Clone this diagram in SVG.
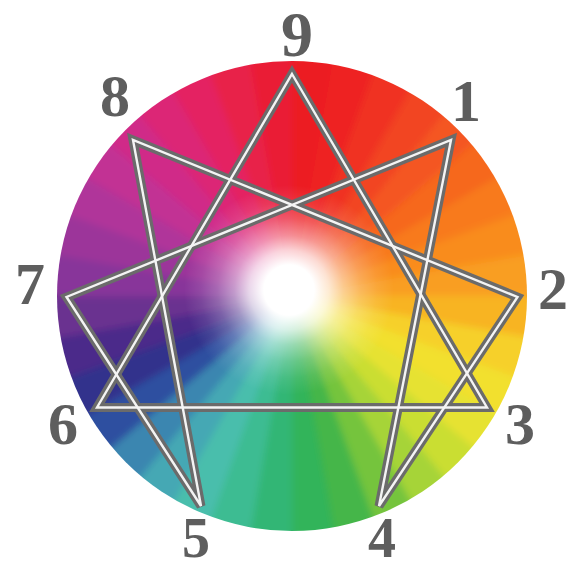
<svg xmlns="http://www.w3.org/2000/svg" width="574" height="573" viewBox="0 0 574 573">
<style>
.w{fill:currentColor;stroke:currentColor;stroke-width:1}
.ln{fill:none;stroke-linejoin:miter}
.g{stroke:#6b6b6b;stroke-width:9}
.h{stroke:#f4f4f4;stroke-width:2.4}
.num{font-family:"Liberation Serif","DejaVu Serif",serif;font-weight:bold;font-size:60px;fill:#5e5e5e;text-anchor:middle}
</style>
<defs>
<clipPath id="c"><circle cx="292" cy="296" r="235"/></clipPath>
<filter id="bl" x="-10%" y="-10%" width="120%" height="120%"><feGaussianBlur stdDeviation="3.5"/></filter>
<radialGradient id="glow" gradientUnits="userSpaceOnUse" cx="289" cy="290" r="105">
<stop offset="0" stop-color="#fff" stop-opacity="1"/>
<stop offset="0.24" stop-color="#fff" stop-opacity="1"/>
<stop offset="0.38" stop-color="#fff" stop-opacity="0.8"/>
<stop offset="0.52" stop-color="#fff" stop-opacity="0.5"/>
<stop offset="0.68" stop-color="#fff" stop-opacity="0.26"/>
<stop offset="0.84" stop-color="#fff" stop-opacity="0.1"/>
<stop offset="1" stop-color="#fff" stop-opacity="0"/>
</radialGradient>
<path id="tri" d="M292 74L487 407.5L97 407.5Z"/>
<path id="hex" d="M451 140L379 506L517.5 297L133 140L201 506L66.5 297Z"/>
</defs>
<rect width="574" height="573" fill="#fff"/>
<g id="wheel" clip-path="url(#c)">
<g filter="url(#bl)">
<path class="w" color="#ec1c24" d="M292 296L292 51L334.5 54.7Z"/>
<path class="w" color="#ee2422" d="M292 296L334.5 54.7L375.8 65.8Z"/>
<path class="w" color="#f03222" d="M292 296L375.8 65.8L414.5 83.8Z"/>
<path class="w" color="#f24422" d="M292 296L414.5 83.8L449.5 108.3Z"/>
<path class="w" color="#f45620" d="M292 296L449.5 108.3L479.7 138.5Z"/>
<path class="w" color="#f6681e" d="M292 296L479.7 138.5L504.2 173.5Z"/>
<path class="w" color="#f87a1e" d="M292 296L504.2 173.5L522.2 212.2Z"/>
<path class="w" color="#f98c1e" d="M292 296L522.2 212.2L533.3 253.5Z"/>
<path class="w" color="#f99e20" d="M292 296L533.3 253.5L537 296Z"/>
<path class="w" color="#f8b424" d="M292 296L537 296L533.3 338.5Z"/>
<path class="w" color="#f6d02a" d="M292 296L533.3 338.5L522.2 379.8Z"/>
<path class="w" color="#f2e02e" d="M292 296L522.2 379.8L504.2 418.5Z"/>
<path class="w" color="#e6e230" d="M292 296L504.2 418.5L479.7 453.5Z"/>
<path class="w" color="#cade32" d="M292 296L479.7 453.5L449.5 483.7Z"/>
<path class="w" color="#a6d438" d="M292 296L449.5 483.7L414.5 508.2Z"/>
<path class="w" color="#74c43e" d="M292 296L414.5 508.2L375.8 526.2Z"/>
<path class="w" color="#44b648" d="M292 296L375.8 526.2L334.5 537.3Z"/>
<path class="w" color="#30b45a" d="M292 296L334.5 537.3L292 541Z"/>
<path class="w" color="#30b674" d="M292 296L292 541L249.5 537.3Z"/>
<path class="w" color="#3cbc92" d="M292 296L249.5 537.3L208.2 526.2Z"/>
<path class="w" color="#48beac" d="M292 296L208.2 526.2L169.5 508.2Z"/>
<path class="w" color="#44a8b4" d="M292 296L169.5 508.2L134.5 483.7Z"/>
<path class="w" color="#3a86b0" d="M292 296L134.5 483.7L104.3 453.5Z"/>
<path class="w" color="#2e50a0" d="M292 296L104.3 453.5L79.8 418.5Z"/>
<path class="w" color="#33308c" d="M292 296L79.8 418.5L61.8 379.8Z"/>
<path class="w" color="#4c2c8a" d="M292 296L61.8 379.8L50.7 338.5Z"/>
<path class="w" color="#6a3090" d="M292 296L50.7 338.5L47 296Z"/>
<path class="w" color="#88349a" d="M292 296L47 296L50.7 253.5Z"/>
<path class="w" color="#9c349a" d="M292 296L50.7 253.5L61.8 212.2Z"/>
<path class="w" color="#b0349a" d="M292 296L61.8 212.2L79.8 173.5Z"/>
<path class="w" color="#c23094" d="M292 296L79.8 173.5L104.3 138.5Z"/>
<path class="w" color="#d02a88" d="M292 296L104.3 138.5L134.5 108.3Z"/>
<path class="w" color="#dc2676" d="M292 296L134.5 108.3L169.5 83.8Z"/>
<path class="w" color="#e42262" d="M292 296L169.5 83.8L208.2 65.8Z"/>
<path class="w" color="#e8204a" d="M292 296L208.2 65.8L249.5 54.7Z"/>
<path class="w" color="#ea1e34" d="M292 296L249.5 54.7L292 51Z"/>
</g>
<circle cx="289" cy="290" r="105" fill="url(#glow)"/>
</g>
<g id="connectors">
<g class="ln g"><use href="#tri"/><use href="#hex"/></g>
<g class="ln h"><use href="#tri"/><use href="#hex"/></g>
</g>
<g id="n9"><text class="num" x="297" y="56" style="font-size:64px">9</text></g>
<g id="n1"><text class="num" x="466" y="121">1</text></g>
<g id="n2"><text class="num" x="553" y="309">2</text></g>
<g id="n3"><text class="num" x="520" y="444">3</text></g>
<g id="n4"><text class="num" x="382" y="557" style="font-size:56px">4</text></g>
<g id="n5"><text class="num" x="196" y="557" style="font-size:56px">5</text></g>
<g id="n6"><text class="num" x="63" y="444">6</text></g>
<g id="n7"><text class="num" x="30" y="304">7</text></g>
<g id="n8"><text class="num" x="115" y="116">8</text></g>
</svg>
